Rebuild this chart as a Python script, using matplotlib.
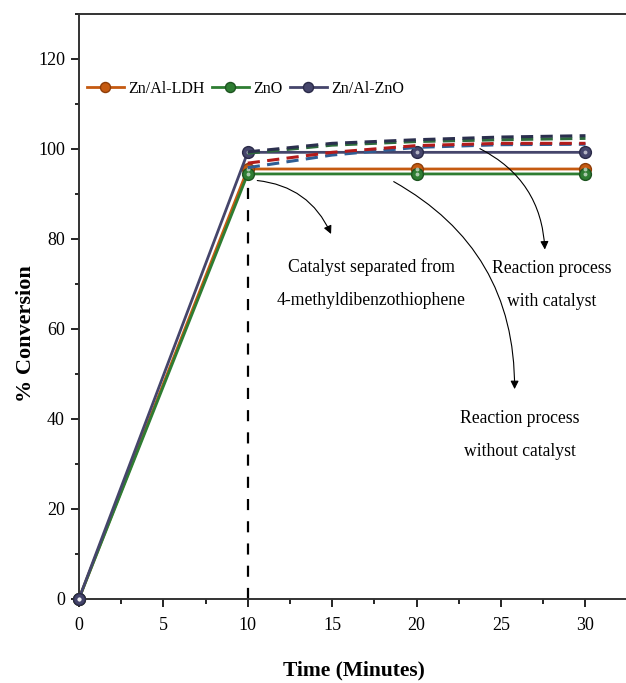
import matplotlib
matplotlib.use("Agg")
import matplotlib.pyplot as plt
from matplotlib.ticker import MultipleLocator

plt.rcParams.update({
    "font.family": ["Liberation Serif", "DejaVu Serif"],
    "font.size": 12,
    "axes.linewidth": 1.4,
    "axes.edgecolor": "#333333",
    "xtick.direction": "out",
    "ytick.direction": "out",
    "xtick.major.size": 6,
    "ytick.major.size": 6,
    "xtick.minor.size": 3.5,
    "ytick.minor.size": 3,
    "xtick.major.width": 1.2,
    "ytick.major.width": 1.2,
    "xtick.minor.width": 1.2,
    "ytick.minor.width": 1.2,
})

# -------------------------
# Data
# -------------------------
time = [0, 10, 20, 30]
zn_al_ldh = [0, 95.5, 95.5, 95.5]
zno = [0, 94.4, 94.4, 94.4]
zn_al_zno = [0, 99.2, 99.2, 99.2]

# dashed curves after catalyst separation
time_d = [10, 15, 20, 25, 30]
navy_d = [99.3, 101.2, 102.0, 102.6, 102.9]
green_d = [99.0, 100.8, 101.6, 102.0, 102.3]
blue_d = [95.8, 98.6, 100.3, 100.9, 101.0]
red_d = [96.8, 99.2, 100.7, 101.2, 101.2]

series = [
    ("Zn/Al-LDH", zn_al_ldh, "#C55A11", "#8E3D08"),
    ("ZnO", zno, "#2E7D32", "#1D5420"),
    ("Zn/Al-ZnO", zn_al_zno, "#45456B", "#2A2A48"),
]

dashed = [
    (blue_d, "#2E5E95"),
    (red_d, "#B31B1B"),
    (green_d, "#2D6B3C"),
    (navy_d, "#2B2F4E"),
]

fig = plt.figure(figsize=(6.26, 6.83), dpi=100)
ax = fig.add_axes([0.126, 0.123, 0.874, 0.857])

# catalyst separation marker
ax.plot([10, 10], [0, 95], color="black", lw=1.6, ls=(0, (5, 5)), zorder=2)

for name, y, c, ec in series:
    ax.plot(time, y, color=c, lw=2.0, marker="o", markersize=8.5,
            markerfacecolor=c, markeredgecolor=ec, markeredgewidth=1.0,
            label=name, zorder=3, clip_on=False)
    # small highlight on the markers
    ax.plot(time, y, ls="none", marker="o", markersize=2.8,
            markerfacecolor="white", markeredgecolor="none", alpha=0.6,
            zorder=4, clip_on=False)

for y, c in dashed:
    ax.plot(time_d, y, color=c, lw=2.2, ls=(0, (4, 2.4)), zorder=5)

# -------------------------
# Annotations
# -------------------------
arrow = dict(arrowstyle="-|>", color="black", lw=0.8,
             connectionstyle="arc3,rad=-0.3", mutation_scale=12)
ax.annotate("", xy=(15.0, 80.5), xytext=(10.4, 93.0), arrowprops=arrow)
ax.annotate("", xy=(25.8, 46.0), xytext=(18.5, 93.0), arrowprops=arrow)
ax.annotate("", xy=(27.6, 77.0), xytext=(23.6, 100.3), arrowprops=arrow)

txt_kw = dict(ha="center", va="center", fontsize=12.7, linespacing=2.2)
ax.text(17.3, 70.0, "Catalyst separated from\n4-methyldibenzothiophene", **txt_kw)
ax.text(28.0, 69.8, "Reaction process\nwith catalyst", **txt_kw)
ax.text(26.1, 36.4, "Reaction process\nwithout catalyst", **txt_kw)

# -------------------------
# Axes styling
# -------------------------
ax.set_xlim(0, 32.4)
ax.set_ylim(0, 130)
ax.xaxis.set_minor_locator(MultipleLocator(2.5))
ax.yaxis.set_minor_locator(MultipleLocator(10))
ax.spines["right"].set_visible(False)
ax.tick_params(axis="y", which="major", labelsize=13, pad=4)
ax.tick_params(axis="x", which="major", labelsize=13, pad=7)
ax.set_xticks([0, 5, 10, 15, 20, 25, 30])
ax.set_yticks([0, 20, 40, 60, 80, 100, 120])

fig.text(0.042, 0.512, "% Conversion", rotation=90, ha="center", va="center",
         fontsize=16, fontweight="bold")
fig.text(0.565, 0.019, "Time (Minutes)", ha="center", va="center",
         fontsize=15.5, fontweight="bold")

ax.legend(loc="center left", bbox_to_anchor=(0.0, 0.872), ncol=3, frameon=False,
          fontsize=11.5, handlelength=2.3, handletextpad=0.3, columnspacing=0.45,
          borderpad=0.0, borderaxespad=0.5, markerscale=0.85)

fig.savefig("out.png", dpi=100)
